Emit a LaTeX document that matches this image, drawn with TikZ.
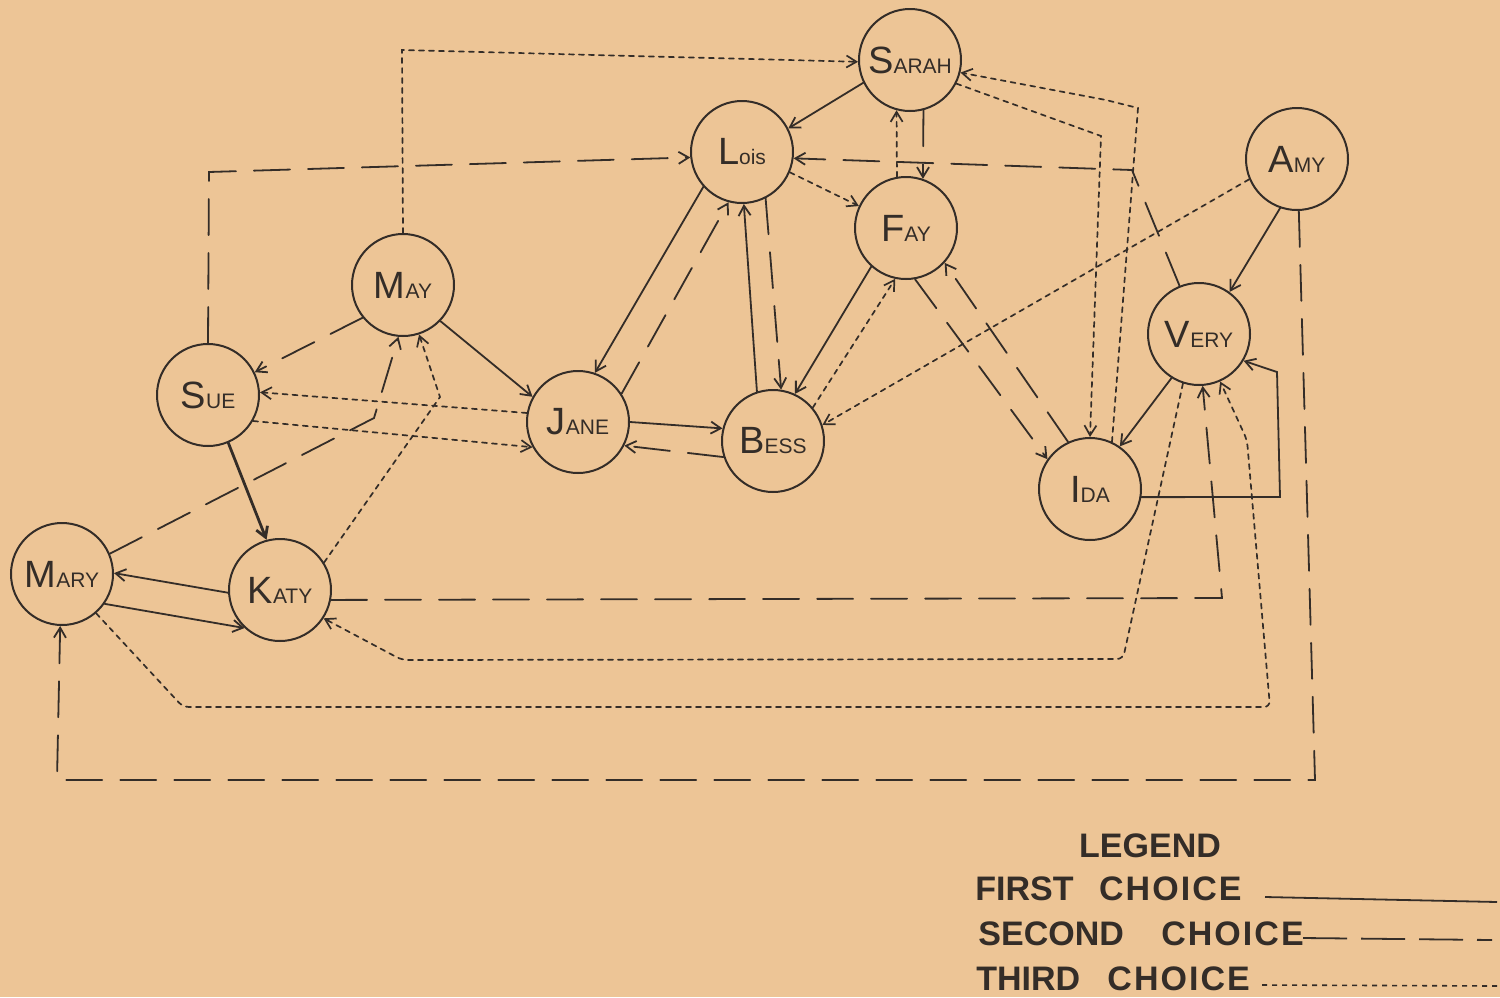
\documentclass[tikz,border=0pt]{standalone}
\usepackage{fontspec}
\setmainfont{Liberation Sans}
\usetikzlibrary{arrows.meta}
\definecolor{paper}{RGB}{237,197,150}
\definecolor{ink}{RGB}{52,45,40}
% a name: large initial, the rest in small capitals
\newcommand{\nm}[2]{{\fontsize{19}{19}\selectfont #1}{\fontsize{10.5}{10.5}\selectfont #2}}
\newcommand{\legendfont}{\fontsize{17}{17}\selectfont\bfseries}
\newcommand{\choiceword}{{\addfontfeature{LetterSpace=6}CHOICE}}

\begin{document}
\begin{tikzpicture}[x=0.5pt,y=-0.5pt,
  girl/.style={circle,draw=ink,line width=1pt,minimum size=51pt,inner sep=0pt,text=ink},
  link/.style={draw=ink,line width=0.9pt,line cap=round,-{Straight Barb[length=5pt,width=6pt]}},
  first/.style={link},
  boldfirst/.style={link,line width=1.4pt},
  second/.style={link,dash pattern=on 18pt off 9pt},
  third/.style={link,line width=0.85pt,dash pattern=on 2.5pt off 2.5pt},
  legtext/.style={anchor=base west,inner sep=0pt,text=ink,font=\legendfont},
]
\useasboundingbox (0,0) rectangle (1500,997);
\fill[paper] (0,0) rectangle (1500,997);

% the twelve girls
\node[girl] (sarah) at (910,60)  {\nm{S}{ARAH}};
\node[girl] (lois)  at (742,152) {\nm{L}{ois}};
\node[girl] (fay)   at (906,228) {\nm{F}{AY}};
\node[girl] (amy)   at (1297,159){\nm{A}{MY}};
\node[girl] (may)   at (403,285) {\nm{M}{AY}};
\node[girl] (very)  at (1199,334){\nm{V}{ERY}};
\node[girl] (sue)   at (208,395) {\nm{S}{UE}};
\node[girl] (jane)  at (578,422) {\nm{J}{ANE}};
\node[girl] (bess)  at (773,441) {\nm{B}{ESS}};
\node[girl] (ida)   at (1090,489){\nm{I}{DA}};
\node[girl] (mary)  at (62,574)  {\nm{M}{ARY}};
\node[girl] (katy)  at (280,590) {\nm{K}{ATY}};

% corner points of the routed connectors
\coordinate (mm1) at (374,418);
\coordinate (km1) at (440,397);
\coordinate (kv1) at (1222,598);
\coordinate (am1) at (1315,780);
\coordinate (am2) at (57,780);
\coordinate (vl1) at (1132,170);
\coordinate (sl1) at (209,172);
\coordinate (iv1) at (1280,497);
\coordinate (iv2) at (1277,372);
\coordinate (mv1) at (183,707);
\coordinate (mv2) at (1270,707);
\coordinate (mv3) at (1247,440);
\coordinate (vk1) at (1123,659);
\coordinate (vk2) at (402,660);
\coordinate (ms1) at (402,50);
\coordinate (si1) at (1101,136);
\coordinate (is1) at (1138,108);
\coordinate (is2) at (1106,100);

% first choices
\draw[first] (sarah.206) -- (lois.27);
\draw[first] (lois.222) -- (jane.71);
\draw[first] (bess.108) -- (lois.272);
\draw[first] (fay.228) -- (bess.65);
\draw[first] (jane.0) -- (bess.166);
\draw[first] (may.316) -- (jane.151);
\draw[boldfirst] (sue.293) -- (katy.105);
\draw[first] (katy.183) -- (mary.1);
\draw[first] (mary.325) -- (katy.227);
\draw[first] (amy.251) -- (very.54);
\draw[first] (very.238) -- (ida.55);
\draw[first] (ida.351) -- (iv1) -- (iv2) -- (very.329);

% second choices
\draw[second] (sarah.285) -- (fay.71);
\draw[second] (jane.33) -- (lois.255);
\draw[second] (lois.297) -- (bess.81);
\draw[second] (bess.198) -- (jane.333);
\draw[second] (may.219) -- (sue.26);
\draw[second] (mary.23) -- (mm1) -- (may.265);
\draw[second] (katy.349) -- (kv1) -- (very.274);
\draw[second] (amy.272) -- (am1) -- (am2) -- (mary.268);
\draw[second] (very.112) -- (vl1) -- (lois.353);
\draw[second] (sue.90) -- (sl1) -- (lois.186);
\draw[second] (fay.280) -- (ida.145);
\draw[second] (ida.115) -- (fay.318);

% third choices
\draw[third] (fay.100) -- (sarah.255);
\draw[third] (lois.337) -- (fay.155);
\draw[third] (bess.40) -- (fay.258);
\draw[third] (amy.203) -- (bess.18);
\draw[third] (jane.170) -- (sue.3);
\draw[third] (sue.330) -- (jane.209);
\draw[third] (katy.32) -- (km1) -- (may.288);
\draw[third,rounded corners=3pt] (mary.311) -- (mv1) -- (mv2) -- (mv3) -- (very.294);
\draw[third,rounded corners=3pt] (very.252) -- (vk1) -- (vk2) -- (katy.327);
\draw[third] (may.90) -- (ms1) -- (sarah.182);
\draw[third] (sarah.333) -- (si1) -- (ida.90);
\draw[third] (ida.65) -- (is1) -- (is2) -- (sarah.346);

% legend
\node[anchor=base,inner sep=0pt,text=ink,font=\legendfont] (legend) at (1150,857) {LEGEND};
\node[legtext] (lfirst)  at (975,900) {FIRST\hspace{0.75em}\choiceword};
\node[legtext] (lsecond) at (978,945) {SECOND\hspace{1.1em}\choiceword};
\node[legtext] (lthird)  at (976,990) {THIRD\hspace{0.8em}\choiceword};
\draw[ink,line width=0.9pt] (1265,897) -- (1497,902);
\draw[ink,line width=0.9pt,dash pattern=on 22pt off 7pt] (1303,938) -- (1492,940);
\draw[ink,line width=0.8pt,dash pattern=on 2.5pt off 2.5pt] (1262,985) -- (1497,986);
\end{tikzpicture}
\end{document}
